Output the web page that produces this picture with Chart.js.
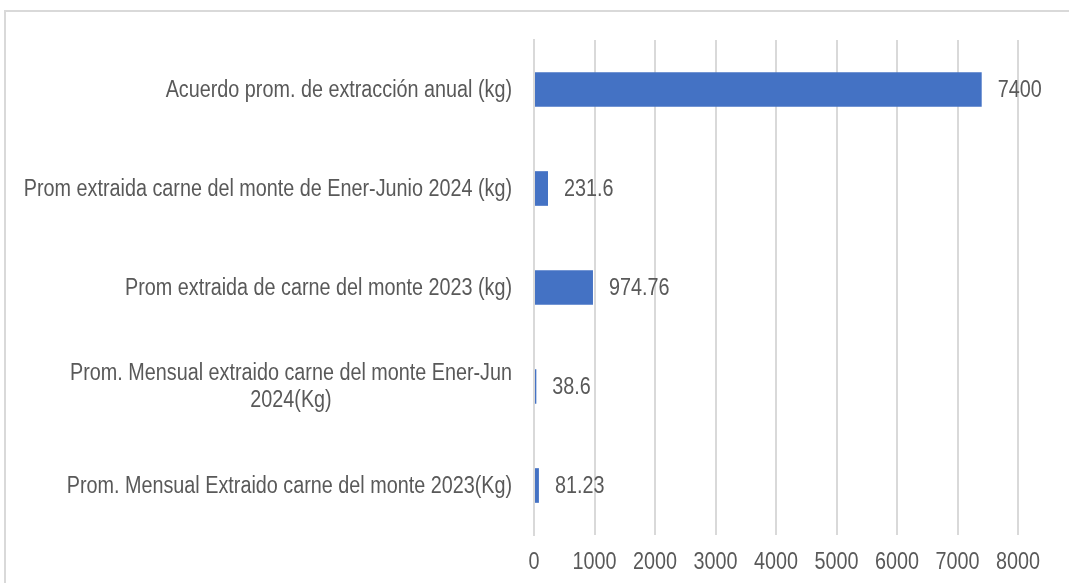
<!DOCTYPE html>
<html>
<head>
<meta charset="utf-8">
<script src="https://cdn.jsdelivr.net/npm/chart.js@4.4.1/dist/chart.umd.min.js"></script>
<style>
  html, body { margin: 0; padding: 0; background: #fff; overflow: hidden; }
  #frame { position: absolute; left: 4px; top: 10px; width: 1100px; height: 600px; border: 2px solid #d9d9d9; box-sizing: border-box; }
  #wrap { position: absolute; left: 0; top: 0; width: 1069px; height: 583px; }
</style>
</head>
<body>
<div id="frame"></div>
<div id="wrap"><canvas id="chart"></canvas></div>
<script>
// categories, top to bottom
const categories = [
  ["Acuerdo prom. de extracción anual (kg)"],
  ["Prom extraida carne del monte de Ener-Junio 2024 (kg)"],
  ["Prom extraida de carne del monte 2023 (kg)"],
  ["Prom. Mensual extraido carne del monte Ener-Jun", "2024(Kg)"],
  ["Prom. Mensual Extraido carne del monte 2023(Kg)"]
];
const values = [7400, 231.6, 974.76, 38.6, 81.23];
const valueLabels = ["7400", "231.6", "974.76", "38.6", "81.23"];
const xTicks = [0, 1000, 2000, 3000, 4000, 5000, 6000, 7000, 8000];

// no Arial Narrow here, so squeeze Liberation Sans (Arial metrics) horizontally
const FONT = '23px "Liberation Sans", Arial, sans-serif';
const SQUEEZE = 0.86;
const TEXT = '#595959';

function narrowText(ctx, txt, x, y, align) {
  ctx.save();
  ctx.translate(x, y);
  ctx.scale(SQUEEZE, 1);
  ctx.textAlign = align;
  ctx.fillText(txt, 0, 0);
  ctx.restore();
}

const textPlugin = {
  id: 'narrowTexts',
  afterDraw(chart) {
    const ctx = chart.ctx;
    const xs = chart.scales.x, ys = chart.scales.y;
    const area = chart.chartArea;
    const meta = chart.getDatasetMeta(0);
    ctx.save();
    ctx.font = FONT;
    ctx.fillStyle = TEXT;
    ctx.textBaseline = 'middle';

    // value next to each bar
    meta.data.forEach((bar, i) => {
      narrowText(ctx, valueLabels[i], bar.x + 16, bar.y + 1, 'left');
    });

    // x tick labels
    xTicks.forEach(v => {
      narrowText(ctx, String(v), xs.getPixelForValue(v), area.bottom + 28, 'center');
    });

    // category labels: lines centred on each other, block right-aligned to the axis
    const right = area.left - 22;
    const lineH = 27;
    categories.forEach((lines, i) => {
      const cy = ys.getPixelForValue(i);
      const w = Math.max(...lines.map(l => ctx.measureText(l).width)) * SQUEEZE;
      const cx = right - w / 2;
      const top = cy - (lines.length - 1) * lineH / 2 + 1;
      lines.forEach((l, k) => narrowText(ctx, l, cx, top + k * lineH, 'center'));
    });
    ctx.restore();
  }
};

new Chart(document.getElementById('chart'), {
  type: 'bar',
  data: {
    labels: categories,
    datasets: [{
      data: values,
      backgroundColor: '#4472C4',
      borderWidth: 0,
      barPercentage: 0.5,
      categoryPercentage: 0.7
    }]
  },
  options: {
    indexAxis: 'y',
    responsive: true,
    maintainAspectRatio: false,
    animation: false,
    layout: { padding: { top: 40, right: 51, left: 0, bottom: 0 } },
    plugins: { legend: { display: false }, tooltip: { enabled: false } },
    scales: {
      x: {
        min: 0,
        max: 8000,
        afterBuildTicks: s => { s.ticks = xTicks.map(v => ({ value: v })); },
        afterFit: s => { s.height = 48; },
        grid: { color: '#d9d9d9', lineWidth: 2, drawTicks: false },
        border: { display: false },
        ticks: { display: false }
      },
      y: {
        afterFit: s => { s.width = 534; },
        grid: { display: false },
        border: { color: '#d9d9d9', width: 2 },
        ticks: { display: false }
      }
    }
  },
  plugins: [textPlugin]
});
</script>
</body>
</html>
